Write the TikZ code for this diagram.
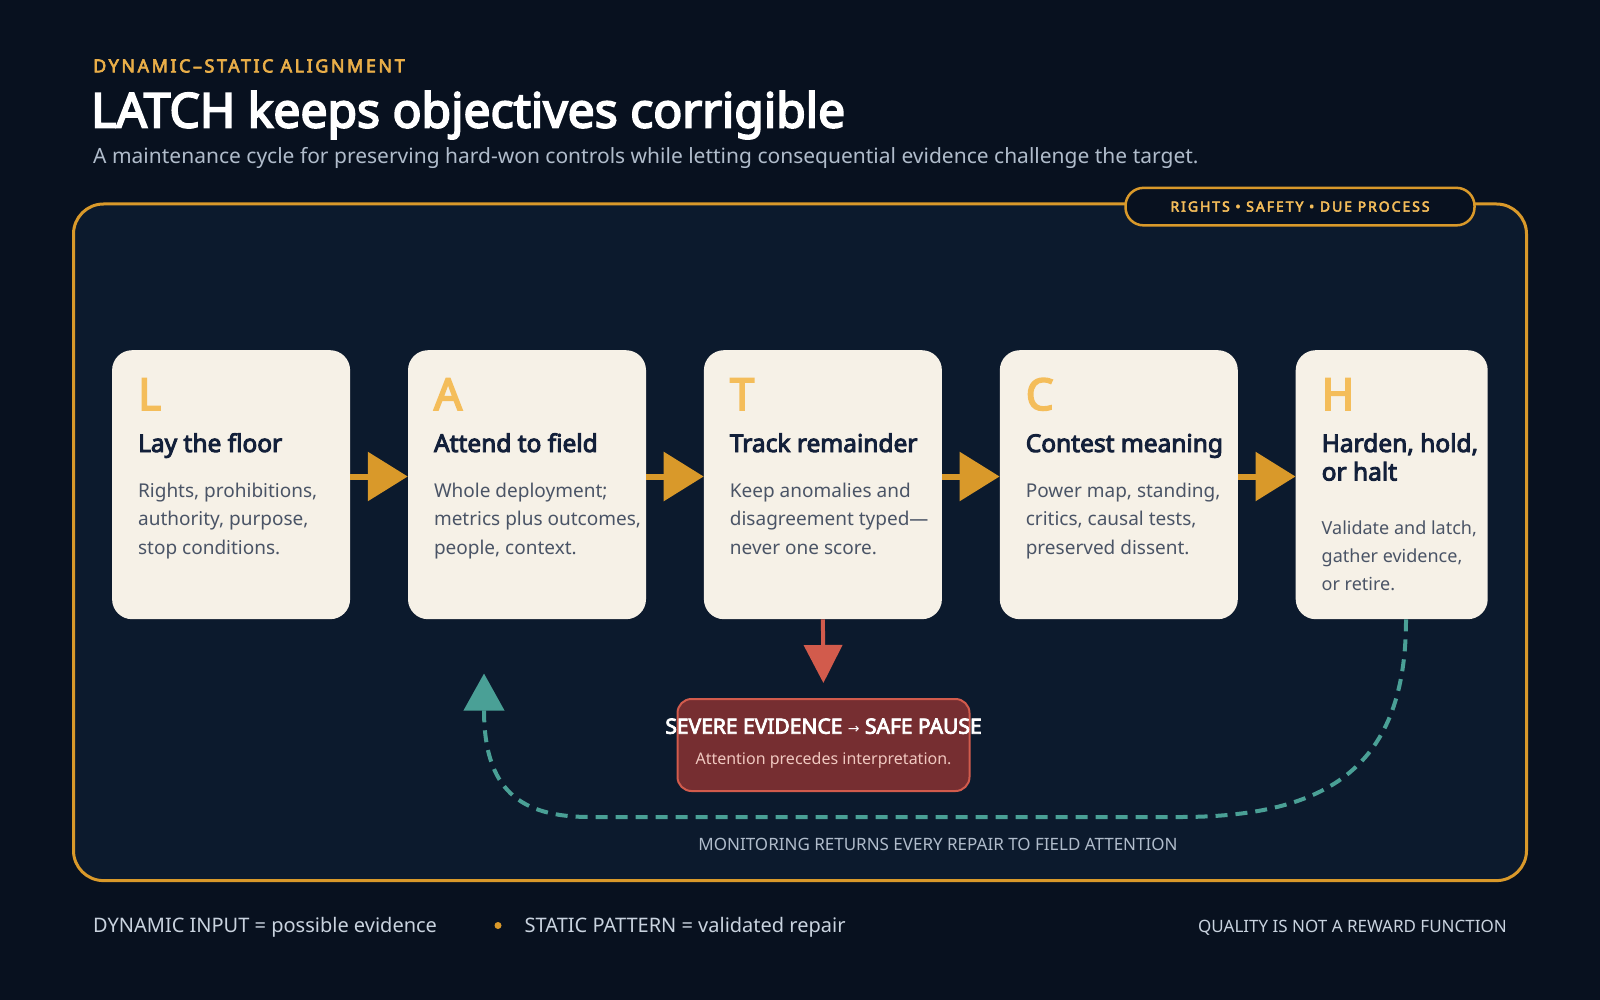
\documentclass[tikz,border=0pt]{standalone}
\usepackage{fontspec}
\setmainfont{Noto Sans}[AutoFakeBold=3.8]
\newfontfamily\arrowfont{DejaVu Sans}
\newfontfamily\spacedfont{Noto Sans}[LetterSpace=14, AutoFakeBold=3.6]
\newfontfamily\pillfont{Noto Sans}[LetterSpace=14, AutoFakeBold=3.6]
\usetikzlibrary{positioning,arrows.meta}

\definecolor{pagebg}{HTML}{08111F}
\definecolor{panelbg}{HTML}{0C1A2D}
\definecolor{frameorange}{HTML}{D9992A}
\definecolor{eyebrow}{HTML}{E9AE48}
\definecolor{cardcream}{HTML}{F6F1E7}
\definecolor{letterorange}{HTML}{F4BD5A}
\definecolor{headnavy}{HTML}{13203A}
\definecolor{bodygray}{HTML}{4A5466}
\definecolor{subgray}{HTML}{B0BCCB}
\definecolor{alertfill}{HTML}{762E31}
\definecolor{alertline}{HTML}{D25B4C}
\definecolor{alertsub}{HTML}{F0C8C0}
\definecolor{returnteal}{HTML}{4AA096}
\definecolor{footgray}{HTML}{C9D3DF}

\newcommand{\fsz}[2]{\fontsize{#1}{#2}\selectfont}

\begin{document}
\begin{tikzpicture}[x=1pt,y=-1pt,
		card/.style={fill=cardcream, rounded corners=20pt, minimum width=238pt, minimum height=269pt, inner sep=0pt},
		cardletter/.style={anchor=base west, inner sep=0pt, text=letterorange, font=\fsz{44}{48}\bfseries},
		cardhead/.style={anchor=base west, inner sep=0pt, text=headnavy, font=\fsz{24.5}{28.5}\bfseries, align=left},
		cardbody/.style={anchor=base west, inner sep=0pt, text=bodygray, font=\fsz{19}{28.5}, align=left},
		flowarrow/.style={draw=frameorange, line width=6pt, -{Triangle[length=40pt 0 0, width=48pt 0 0]}},
		alertarrow/.style={draw=alertline, line width=4pt, -{Triangle[length=38pt 0 0, width=38pt 0 0]}, shorten >=15pt},
		returnarrow/.style={draw=returnteal, line width=4pt, dash pattern=on 12pt off 8pt, -{Triangle[length=37pt 0 0, width=40pt 0 0]}}
	]
	\useasboundingbox (0,0) rectangle (1600,1000);
	\fill[pagebg] (0,0) rectangle (1600,1000);

	% heading
	\node[anchor=base west, inner sep=0pt, text=eyebrow, font=\fsz{18}{20}\spacedfont\bfseries] (eyebrow) at (93,72.4) {DYNAMIC–STATIC ALIGNMENT};
	\node[anchor=base west, inner sep=0pt, text=white, font=\fsz{48}{54}\bfseries] (title) at (91,127.5) {LATCH keeps objectives corrigible};
	\node[anchor=base west, inner sep=0pt, text=subgray, font=\fsz{21}{24}] (subtitle) at (93,164) {A maintenance cycle for preserving hard-won controls while letting consequential evidence challenge the target.};

	% panel
	\draw[fill=panelbg, draw=frameorange, line width=3pt, rounded corners=30pt] (73.5,204) rectangle (1526.5,880.6);
	\node[fill=pagebg, draw=frameorange, line width=2.5pt, rounded corners=18pt, minimum width=349pt, minimum height=37.5pt,
		text=letterorange, font=\fsz{14}{16}\pillfont\bfseries] (pill) at (1300,206.6) {RIGHTS • SAFETY • DUE PROCESS};

	% the five cards
	\node[card] (cardL) at (231.1,484.7) {};
	\node[card, right=57.5pt of cardL] (cardA) {};
	\node[card, right=57.5pt of cardA] (cardT) {};
	\node[card, right=57.5pt of cardT] (cardC) {};
	\node[card, right=57.5pt of cardC, minimum width=192pt] (cardH) {};

	\foreach \id/\head/\body in {
			L/{Lay the floor}/{Rights, prohibitions,\\authority, purpose,\\stop conditions.},
			A/{Attend to field}/{Whole deployment;\\metrics plus outcomes,\\people, context.},
			T/{Track remainder}/{Keep anomalies and\\disagreement typed—\\never one score.},
			C/{Contest meaning}/{Power map, standing,\\critics, causal tests,\\preserved dissent.}} {
		\node[cardletter] (letter\id) at ([xshift=26pt, yshift=-60pt]card\id.north west) {\id};
		\node[cardhead] (head\id) at ([xshift=26pt, yshift=-102pt]card\id.north west) {\head};
		\node[cardbody] (body\id) at ([xshift=26pt, yshift=-204pt]card\id.north west) {\body};
	}
	\node[cardletter] (letterH) at ([xshift=26pt, yshift=-60pt]cardH.north west) {H};
	\node[cardhead] (headH) at ([xshift=26pt, yshift=-130.5pt]cardH.north west) {Harden, hold,\\or halt};
	\node[cardbody, font=\fsz{18}{28}] (bodyH) at ([xshift=26pt, yshift=-240.7pt]cardH.north west) {Validate and latch,\\gather evidence,\\or retire.};

	% forward flow
	\coordinate (flowline) at (0,476.5);
	\foreach \a/\b in {L/A, A/T, T/C, C/H}
		\draw[flowarrow] (card\a.east |- flowline) -- (card\b.west |- flowline);

	% severe evidence
	\node[fill=alertfill, draw=alertline, line width=2pt, rounded corners=14pt, minimum width=292pt, minimum height=92pt] (pause) at (823.5,745) {};
	\node[anchor=base, inner sep=0pt, text=white, font=\fsz{21}{23}\bfseries] (pausehead) at (823.5,733.7) {SEVERE EVIDENCE {\arrowfont\mdseries\fsz{14}{16}→} SAFE PAUSE};
	\node[anchor=base, inner sep=0pt, text=alertsub, font=\fsz{16}{19}] (pausenote) at (823.5,764) {Attention precedes interpretation.};
	\draw[alertarrow] (cardT.south) -- (pause.north);

	% monitoring loop back to A
	\coordinate (retstart) at (1406,619.4);
	\coordinate (retend) at (484,673.5);
	\draw[returnarrow] (retstart) .. controls (1406,765) and (1330,817) .. (1180,817) -- (590,817) .. controls (520,817) and (484,790) .. (retend);
	\node[anchor=base, inner sep=0pt, text=subgray, font=\fsz{17}{19}] (returnnote) at (938,850) {MONITORING RETURNS EVERY REPAIR TO FIELD ATTENTION};

	% footer
	\node[anchor=base west, inner sep=0pt, text=footgray, font=\fsz{20}{22}] (footdyn) at (93,932.7) {DYNAMIC INPUT = possible evidence};
	\node[circle, fill=frameorange, inner sep=0pt, minimum size=7pt] (footdot) at (498,925.5) {};
	\node[anchor=base west, inner sep=0pt, text=footgray, font=\fsz{20}{22}] (footstat) at (524.5,932.7) {STATIC PATTERN = validated repair};
	\node[anchor=base east, inner sep=0pt, text=footgray, font=\fsz{17}{19}] (footquality) at (1507,932.7) {QUALITY IS NOT A REWARD FUNCTION};
\end{tikzpicture}
\end{document}
